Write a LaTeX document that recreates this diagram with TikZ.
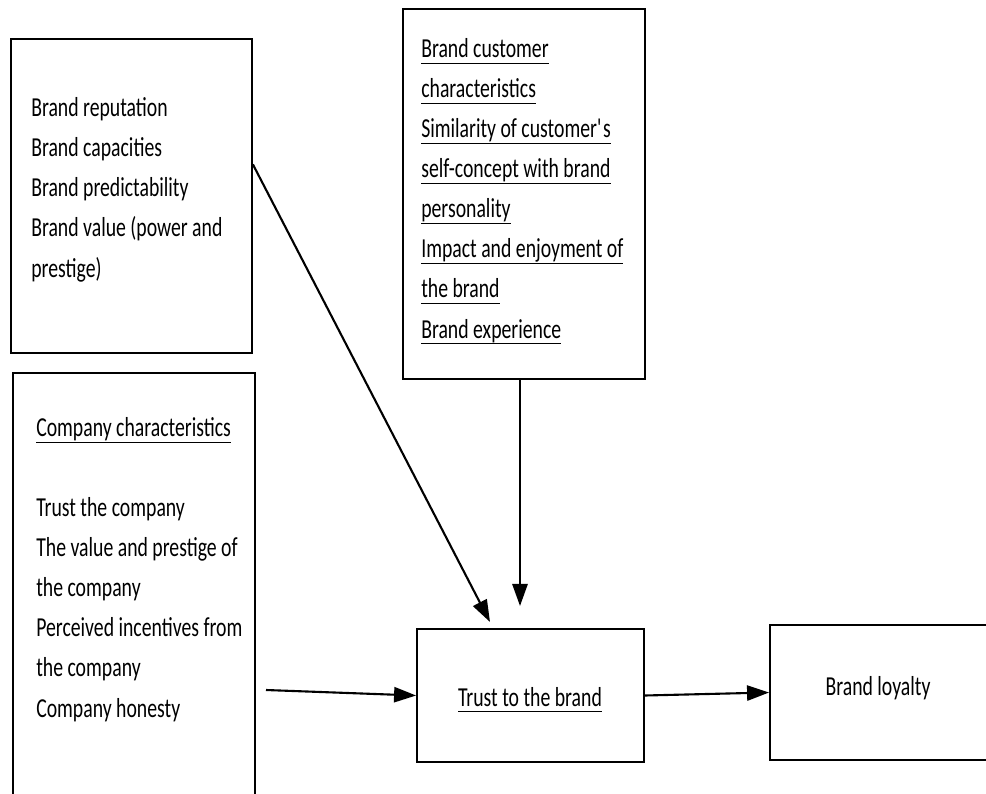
\documentclass[tikz,border=0pt]{standalone}
\usepackage{fontspec}
\setmainfont{Carlito}[FakeStretch=0.72]
\newsavebox{\undlbox}
\newcommand{\undl}[1]{\sbox{\undlbox}{#1}\rlap{\rule[-4.5pt]{\wd\undlbox}{1.2pt}}\usebox{\undlbox}}
\usetikzlibrary{arrows.meta,fit,calc}
\tikzset{
  box/.style={draw, line width=1.3pt, inner sep=0pt},
  txt/.style={align=left, inner sep=0pt, font=\fontsize{19.5}{28.45}\selectfont},
  arrow/.style={line width=1.5pt, -{Triangle[length=0.55cm,width=0.38cm]}}
}
\begin{document}
\begin{tikzpicture}[x=0.025cm, y=-0.025cm]
  \useasboundingbox (0,0) rectangle (986,794);

  % boxes
  \node[box, fit={(11,39) (252,353)}] (brandbox) {};
  \node[box, fit={(403,9) (645,379)}] (custbox) {};
  \node[box, fit={(13,373) (255,820)}] (compbox) {};
  \node[box, fit={(417,629) (644,762)}] (trust) {};
  \node[box, fit={(770,625) (1000,760)}] (loyalty) {};

  % texts (base = baseline of the last line)
  \node[txt, anchor=base west] (brandtext) at (31,277)
    {Brand reputation\\Brand capacities\\Brand predictability\\Brand value (power and\\prestige)};
  \node[txt, anchor=base west] (custtext) at (421,338)
    {\undl{Brand customer}\\\undl{characteristics}\\\undl{Similarity of customer\textquotesingle s}\\
     \undl{self-concept with brand}\\\undl{personality}\\\undl{Impact and enjoyment of}\\
     \undl{the brand}\\\undl{Brand experience}};
  \node[txt, anchor=base west] (comptext) at (36,717)
    {\undl{Company characteristics}\\[1cm]Trust the company\\The value and prestige of\\
     the company\\Perceived incentives from\\the company\\Company honesty};
  \node[txt, anchor=base] (trusttext) at (530,706) {\undl{Trust to the brand}};
  \node[txt, anchor=base] (loyaltytext) at (878,695) {Brand loyalty};

  % arrows
  \coordinate (diagend) at (490,622);
  \coordinate (vertend) at (520,606);
  \coordinate (horizstart) at (266,690);
  \draw[arrow] ($(brandbox.north east)!0.4!(brandbox.south east)$) -- (diagend);
  \draw[arrow] (custbox.south -| vertend) -- (vertend);
  \draw[arrow] (horizstart) -- (trust.west);
  \draw[arrow] (trust.east) -- (loyalty.west);
\end{tikzpicture}
\end{document}
